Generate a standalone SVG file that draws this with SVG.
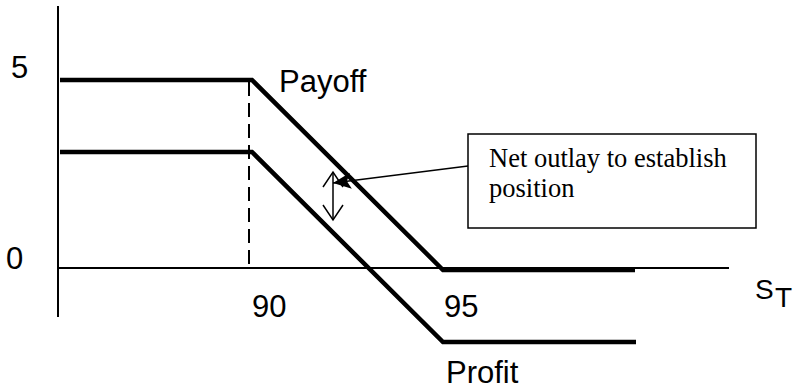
<svg xmlns="http://www.w3.org/2000/svg" width="797" height="391" viewBox="0 0 797 391">
  <style>
    .lbl { font-family: "Liberation Sans", Arial, sans-serif; font-size: 31px; fill: #000; }
    .box { font-family: "Liberation Serif", "Times New Roman", serif; font-size: 26.5px; fill: #000; }
    .axis { stroke: #000; stroke-width: 2; fill: none; }
    .thick { stroke: #000; stroke-width: 4.5; fill: none; stroke-linejoin: miter; }
  </style>
  <defs>
    <marker id="filled" markerUnits="userSpaceOnUse" markerWidth="20" markerHeight="16" refX="18" refY="8" orient="auto">
      <path d="M0,0 L18,8 L0,16 L4,8 Z" fill="#000"/>
    </marker>
  </defs>
  <g id="axes">
    <line class="axis" x1="58" y1="6" x2="58" y2="317"/>
    <line class="axis" x1="58" y1="268" x2="729" y2="268"/>
    <line class="axis" x1="249" y1="82" x2="249" y2="268" stroke-dasharray="14 7"/>
  </g>
  <g id="payoff">
    <polyline class="thick" points="60,80 252,80 443,270 635,270"/>
  </g>
  <g id="profit">
    <polyline class="thick" points="60,152 252,152 443,342 636,342"/>
  </g>
  <g id="labels">
    <text class="lbl" x="11" y="78">5</text>
    <text class="lbl" x="6" y="269">0</text>
    <text class="lbl" x="252" y="317">90</text>
    <text class="lbl" x="444" y="317">95</text>
    <text class="lbl" x="279" y="92">Payoff</text>
    <text class="lbl" x="446" y="383">Profit</text>
    <text class="lbl" x="755" y="299" style="font-size:28px">S</text>
    <text class="lbl" x="775" y="307" style="font-size:28px">T</text>
  </g>
  <g id="note">
    <rect x="468" y="134" width="288" height="94" fill="#fff" stroke="#000" stroke-width="1.5"/>
    <text class="box" x="489" y="167">Net outlay to establish</text>
    <text class="box" x="489" y="197">position</text>
  </g>
  <g id="connectors">
    <line x1="468" y1="166" x2="333" y2="183" stroke="#000" stroke-width="1.5" marker-end="url(#filled)"/>
    <g stroke="#000" stroke-width="1.5" fill="none">
      <line x1="333" y1="172" x2="333" y2="220"/>
      <polyline points="323,187 333,172 343,187"/>
      <polyline points="323,205 333,220 343,205"/>
    </g>
  </g>
</svg>
